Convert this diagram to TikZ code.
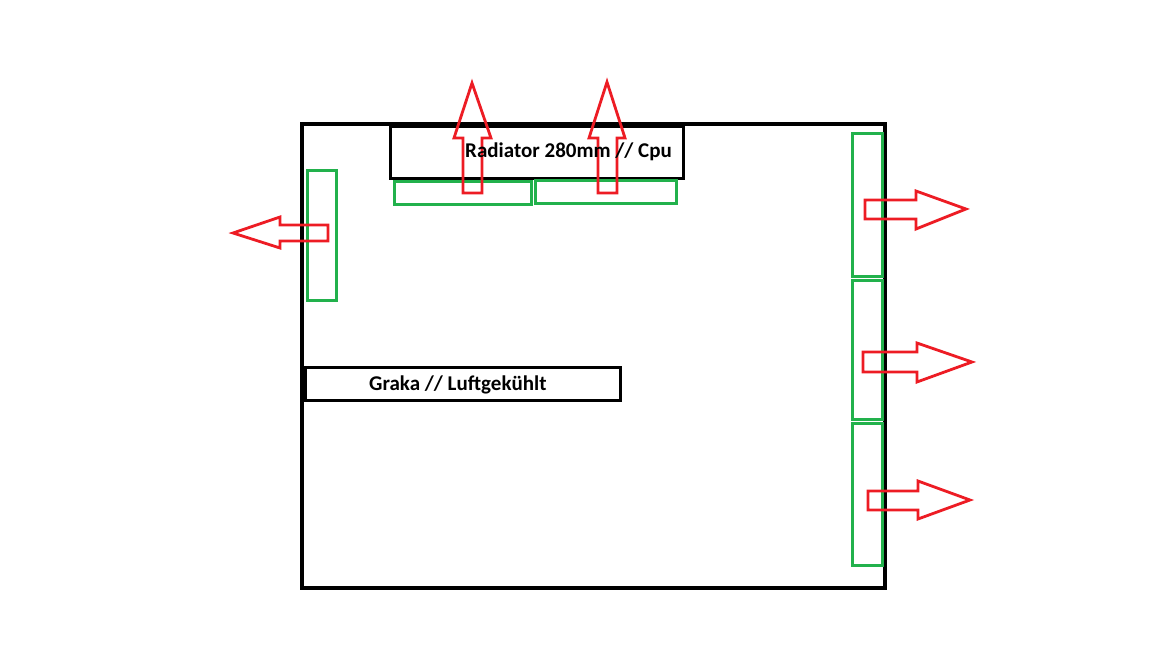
\documentclass[tikz,border=0pt]{standalone}
\usepackage{fontspec}
\setmainfont{Carlito}
\definecolor{paintred}{RGB}{237,28,36}
\definecolor{paintgreen}{RGB}{34,177,76}
\begin{document}
\begin{tikzpicture}[x=1pt,y=-1pt,
  box/.style={draw=black, line width=#1, inner sep=0pt, rectangle},
  fan/.style={draw=paintgreen, line width=3pt, inner sep=0pt, rectangle},
  flow/.style={draw=paintred, line width=2.8pt, line join=miter},
  lbl/.style={font=\bfseries\fontsize{21}{24}\selectfont, inner sep=0pt}]
\useasboundingbox (0,0) rectangle (1152,648);
% case
\node[box=4pt, minimum width=583pt, minimum height=464pt] (case) at (593.5,356) {};
% radiator
\node[box=3pt, minimum width=293pt, minimum height=52pt] (rad) at (536.5,152) {};
% fans
\node[fan, minimum width=137pt, minimum height=23pt] (ft1) at (462.5,192.5) {};
\node[fan, minimum width=141pt, minimum height=23pt] (ft2) at (605.5,191.5) {};
\node[fan, minimum width=29pt, minimum height=130pt] (fl) at (321.5,235) {};
\node[fan, minimum width=30pt, minimum height=143pt] (fr1) at (867,204.5) {};
\node[fan, minimum width=30pt, minimum height=139pt] (fr2) at (867,349.5) {};
\node[fan, minimum width=30pt, minimum height=142pt] (fr3) at (867,494) {};
% graphics card
\node[box=3pt, minimum width=315pt, minimum height=33pt] (gpu) at (462.5,383.5) {};
% red airflow arrows
\draw[flow] (463,193) -- (463,138) -- (454,138) -- (472,83) -- (491,138) -- (482,138) -- (482,193) -- cycle;
\draw[flow] (598,193) -- (598,138) -- (589,138) -- (607,82) -- (625,138) -- (617,138) -- (617,193) -- cycle;
\draw[flow] (328,225) -- (280,225) -- (280,217) -- (233,233) -- (280,248) -- (280,241) -- (328,241) -- cycle;
\draw[flow] (865,200) -- (916,200) -- (916,191) -- (966,209) -- (916,229) -- (916,219) -- (865,219) -- cycle;
\draw[flow] (863,352) -- (917,352) -- (917,343) -- (972,362) -- (917,382) -- (917,372) -- (863,372) -- cycle;
\draw[flow] (868,491) -- (918,491) -- (918,481) -- (970,500) -- (918,519) -- (918,510) -- (868,510) -- cycle;
% labels
\node[lbl, anchor=base west] (radtext) at (465,157) {Radiator 280mm // Cpu};
\node[lbl, anchor=base west] (gputext) at (369,390) {Graka // Luftgekühlt};
\end{tikzpicture}
\end{document}
